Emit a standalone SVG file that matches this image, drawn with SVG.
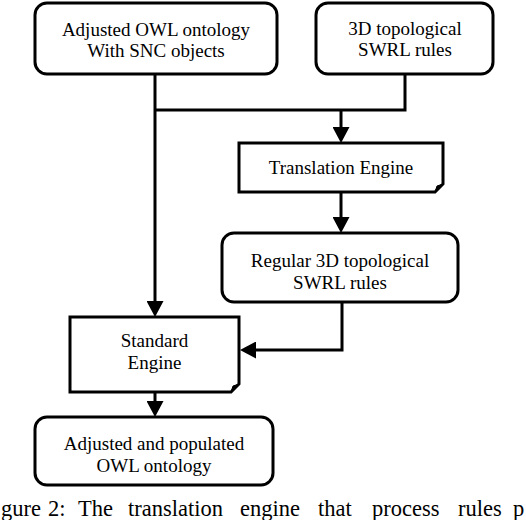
<svg xmlns="http://www.w3.org/2000/svg" width="526" height="520" viewBox="0 0 526 520">
<style>
.box{fill:#fff;stroke:#000;stroke-width:3}
.fold{fill:#000;stroke:#000;stroke-width:1}
.t{font-family:'Liberation Serif','Times New Roman','DejaVu Serif',serif;font-size:19px;fill:#000;text-anchor:middle}
.cap{font-family:'Liberation Serif','Times New Roman','DejaVu Serif',serif;font-size:22.5px;fill:#000}
.c{fill:none;stroke:#000;stroke-width:3}
</style>
<defs>
<marker id="ah" markerUnits="userSpaceOnUse" markerWidth="17" markerHeight="17" refX="8" refY="8.5" orient="auto">
<path d="M0,0 L16,8.5 L0,17 Z" fill="#000"/>
</marker>
</defs>
<rect width="526" height="520" fill="#fff"/>
<g id="connectors">
<line class="c" x1="155" y1="74" x2="155" y2="309" marker-end="url(#ah)"/>
<path class="c" d="M405,74 V110 H155"/>
<line class="c" x1="341" y1="110" x2="341" y2="135" marker-end="url(#ah)"/>
<line class="c" x1="341" y1="192" x2="341" y2="225" marker-end="url(#ah)"/>
<path class="c" d="M342,302 V350 H248" marker-end="url(#ah)"/>
<line class="c" x1="155" y1="392" x2="155" y2="409" marker-end="url(#ah)"/>
</g>
<g id="n1">
<rect class="box" x="35" y="3" width="242" height="71" rx="12"/>
<text class="t" x="156" y="35.5">Adjusted OWL ontology</text>
<text class="t" x="156" y="57">With SNC objects</text>
</g>
<g id="n2">
<rect class="box" x="316" y="3" width="177" height="71" rx="12"/>
<text class="t" x="405" y="34.5">3D topological</text>
<text class="t" x="405" y="56">SWRL rules</text>
</g>
<g id="n3">
<path class="box" d="M239,143 H443 V184 L435,192 H239 Z"/>
<path class="fold" d="M443,184 L435,192 L437,186 Z"/>
<text class="t" x="341" y="173.5">Translation Engine</text>
</g>
<g id="n4">
<rect class="box" x="222" y="233" width="236" height="69" rx="12"/>
<text class="t" x="340" y="267">Regular 3D topological</text>
<text class="t" x="340" y="288.5">SWRL rules</text>
</g>
<g id="n5">
<path class="box" d="M70,317 H239 V384 L231,392 H70 Z"/>
<path class="fold" d="M239,384 L231,392 L233,386 Z"/>
<text class="t" x="154.5" y="347">Standard</text>
<text class="t" x="154.5" y="368.5">Engine</text>
</g>
<g id="n6">
<rect class="box" x="35" y="417" width="238" height="68" rx="12"/>
<text class="t" x="154" y="450">Adjusted and populated</text>
<text class="t" x="154" y="471.5">OWL ontology</text>
</g>
<text class="cap" y="516"><tspan x="1">gure</tspan><tspan x="48">2:</tspan><tspan x="78">The</tspan><tspan x="128">translation</tspan><tspan x="240">engine</tspan><tspan x="318">that</tspan><tspan x="372">process</tspan><tspan x="458">rules</tspan><tspan x="513">p</tspan></text>
</svg>
